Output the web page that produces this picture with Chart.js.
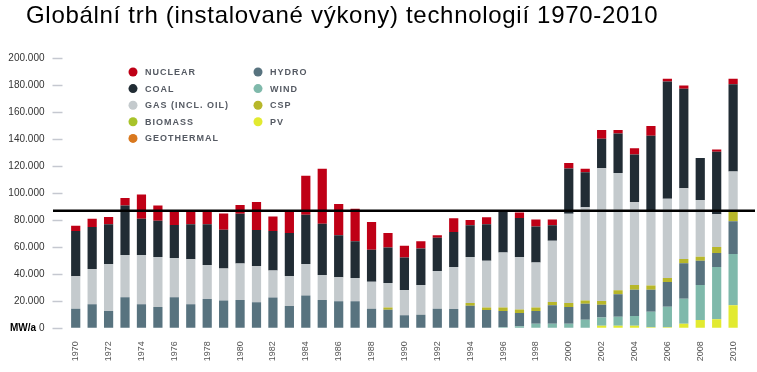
<!DOCTYPE html>
<html>
<head>
<meta charset="utf-8">
<script src="https://cdn.jsdelivr.net/npm/chart.js@4/dist/chart.umd.min.js"></script>
<style>
    html, body { margin: 0; padding: 0; background: #fff; }
    #wrap { position: relative; width: 757px; height: 372px; }
    #title {
        position: absolute; left: 26px; top: 1px;
        font-family: "Liberation Sans", Arial, sans-serif; font-size: 24px; color: #000;
        letter-spacing: 0.7px; line-height: 27px;
        white-space: nowrap;
    }
    canvas { position: absolute; left: 0; top: 0; }
</style>
</head>
<body>
<div id="wrap">
    <canvas id="chart" width="757" height="372"></canvas>
    <div id="title">Globální trh (instalované výkony) technologií 1970-2010</div>
</div>
<script>
    var YEARS = [];
    for (var yr = 1970; yr <= 2010; yr++) YEARS.push(String(yr));

    // MW per year (stack order bottom -> top)
    var PV = [0,0,0,0,0,0,0,0,0,0, 0,0,0,0,0,0,0,0,0,0, 0,0,0,0,0,0,0,0,0,0, 0,0,1900,1900,1900,700,700,3400,6100,6700, 17000];
    var WIND = [0,0,0,0,0,0,0,0,0,0, 0,0,0,0,0,0,0,0,0,0, 0,0,0,0,0,0,700,1500,3400,3400, 3400,6400,6000,6700,7200,11600,15300,18500,26000,38700, 38000];
    var HYDRO = [14500,17800,12800,23000,17800,15800,23000,17800,21700,20500,
                 21000,19200,22700,16500,24200,21000,20000,20000,14500,13800,
                 9600,10000,14500,14300,16700,13500,12100,9800,9400,13600,
                 12400,11800,9600,16600,19500,16300,18300,26200,17800,10400,
                 24300];
    var CSP = [0,0,0,0,0,0,0,0,0,0, 0,0,0,0,0,0,0,0,0,1500,
               0,0,0,0,2000,1800,2500,2700,2500,2500,
               2900,2300,2700,2900,3500,3000,3000,3200,3100,4400,
               7400];
    var BIOMASS = [0,0,0,0,0,0,0,0,0,0, 0,0,0,0,0,0,0,0,0,0, 0,0,0,0,0,0,0,0,0,0, 0,0,0,0,0,0,0,0,0,0, 0];
    var GEOTHERMAL = [0,0,0,0,0,0,0,0,0,0, 0,0,0,0,0,0,0,0,0,0, 0,0,0,0,0,0,0,0,0,0, 0,0,0,0,0,0,0,0,0,0, 0];
    var GAS = [24000,26100,34800,31300,36500,37000,29000,33200,25200,23700,
               27000,26800,20000,22200,23400,18500,17800,17300,20000,18200,
               18800,22000,27900,31100,34100,34600,40700,38800,33300,45200,
               66000,69100,98300,86900,61200,55500,58500,52400,42000,24200,
               29300];
    var COAL = [33500,31100,29400,36500,26700,26700,24500,26000,30100,28800,
                36700,26800,29300,31900,36400,37800,31100,27100,23700,26200,
                23900,27000,24600,25900,23500,27100,31000,28900,26700,11600,
                33500,25900,21700,29200,35300,55300,86900,73600,31000,46200,
                64500];
    var NUCLEAR = [3800,6000,5400,5700,18000,11300,10500,10000,10000,12000,
                   6600,20700,10700,16400,28800,40700,23100,24000,20500,10900,
                   8700,5400,1900,10200,3900,5200,500,3900,5200,4200,
                   4200,2500,6500,2500,4700,7200,2000,2400,0,1700,
                   4200];
    var Y_TICKS = [0, 20000, 40000, 60000, 80000, 100000, 120000, 140000, 160000, 180000, 200000];
    var REF_LINE = 87000;

    var SERIES = [
        { label: 'PV', data: PV, color: '#e2ea30' },
        { label: 'WIND', data: WIND, color: '#7fb9ab' },
        { label: 'HYDRO', data: HYDRO, color: '#58737f' },
        { label: 'CSP', data: CSP, color: '#b7b72a' },
        { label: 'BIOMASS', data: BIOMASS, color: '#a8c32a' },
        { label: 'GEOTHERMAL', data: GEOTHERMAL, color: '#d9781e' },
        { label: 'GAS (INCL. OIL)', data: GAS, color: '#c4cacd' },
        { label: 'COAL', data: COAL, color: '#212c34' },
        { label: 'NUCLEAR', data: NUCLEAR, color: '#bf0016' }
    ];
    var LEGEND_COLS = [
        ['NUCLEAR', 'COAL', 'GAS (INCL. OIL)', 'BIOMASS', 'GEOTHERMAL'],
        ['HYDRO', 'WIND', 'CSP', 'PV']
    ];

    function fmt(v) {
        return String(v).replace(/\B(?=(\d{3})+(?!\d))/g, '.');
    }

    // legend in two columns, drawn from the datasets
    var legendPlugin = {
        id: 'sideLegend',
        afterDraw: function (chart) {
            var ctx = chart.ctx;
            var colX = [133, 258];
            ctx.save();
            ctx.font = 'bold 9px "Liberation Sans", Arial, sans-serif';
            ctx.textBaseline = 'middle';
            LEGEND_COLS.forEach(function (col, ci) {
                col.forEach(function (name, ri) {
                    var ds = chart.data.datasets.find(function (d) { return d.label === name; });
                    var y = 72 + ri * 16.6;
                    ctx.fillStyle = ds.backgroundColor;
                    ctx.beginPath();
                    ctx.arc(colX[ci], y, 4.5, 0, Math.PI * 2);
                    ctx.fill();
                    ctx.fillStyle = '#555a63';
                    if (ctx.letterSpacing !== undefined) ctx.letterSpacing = '1px';
                    ctx.fillText(name, colX[ci] + 12, y + 0.5);
                });
            });
            ctx.restore();
        }
    };

    // horizontal reference line + unit label
    var linePlugin = {
        id: 'refLine',
        afterDatasetsDraw: function (chart) {
            var ctx = chart.ctx;
            var y = chart.scales.y.getPixelForValue(REF_LINE);
            ctx.save();
            ctx.strokeStyle = '#000';
            ctx.lineWidth = 2.5;
            ctx.beginPath();
            ctx.moveTo(53, y);
            ctx.lineTo(755, y);
            ctx.stroke();
            ctx.fillStyle = '#000';
            ctx.font = 'bold 10px "Liberation Sans", Arial, sans-serif';
            ctx.textAlign = 'right';
            ctx.textBaseline = 'middle';
            ctx.fillText('MW/a', 36, chart.scales.y.getPixelForValue(0));
            ctx.restore();
        }
    };

    var config = {
        type: 'bar',
        data: {
            labels: YEARS,
            datasets: SERIES.map(function (s) {
                return {
                    label: s.label,
                    data: s.data,
                    backgroundColor: s.color,
                    borderWidth: 0,
                    barPercentage: 0.56,
                    categoryPercentage: 1.0
                };
            })
        },
        options: {
            responsive: false,
            animation: false,
            layout: { padding: { top: 58, right: 7, left: 0, bottom: 0 } },
            plugins: {
                legend: { display: false },
                tooltip: { enabled: false }
            },
            scales: {
                x: {
                    stacked: true,
                    grid: { display: false, drawTicks: false },
                    border: { display: false },
                    ticks: {
                        autoSkip: false,
                        minRotation: 90,
                        maxRotation: 90,
                        padding: 13,
                        color: '#555',
                        font: { family: '"Liberation Sans", Arial, sans-serif', size: 9 },
                        callback: function (val, idx) {
                            return idx % 2 === 0 ? YEARS[idx] : '';
                        }
                    },
                    afterFit: function (scale) { scale.height = 43.7; }
                },
                y: {
                    stacked: true,
                    min: 0,
                    max: 200000,
                    afterBuildTicks: function (scale) {
                        scale.ticks = Y_TICKS.map(function (v) { return { value: v }; });
                    },
                    grid: {
                        drawOnChartArea: false,
                        tickLength: 15,
                        tickColor: '#c5c8d0',
                        tickWidth: 1.5,
                        tickBorderDash: [10, 30]
                    },
                    border: { display: false },
                    ticks: {
                        padding: 8,
                        color: '#333',
                        font: { family: '"Liberation Sans", Arial, sans-serif', size: 10 },
                        callback: function (v) { return fmt(v); }
                    },
                    afterFit: function (scale) { scale.width = 67.5; }
                }
            }
        },
        plugins: [legendPlugin, linePlugin]
    };

    new Chart(document.getElementById('chart').getContext('2d'), config);
</script>
</body>
</html>
